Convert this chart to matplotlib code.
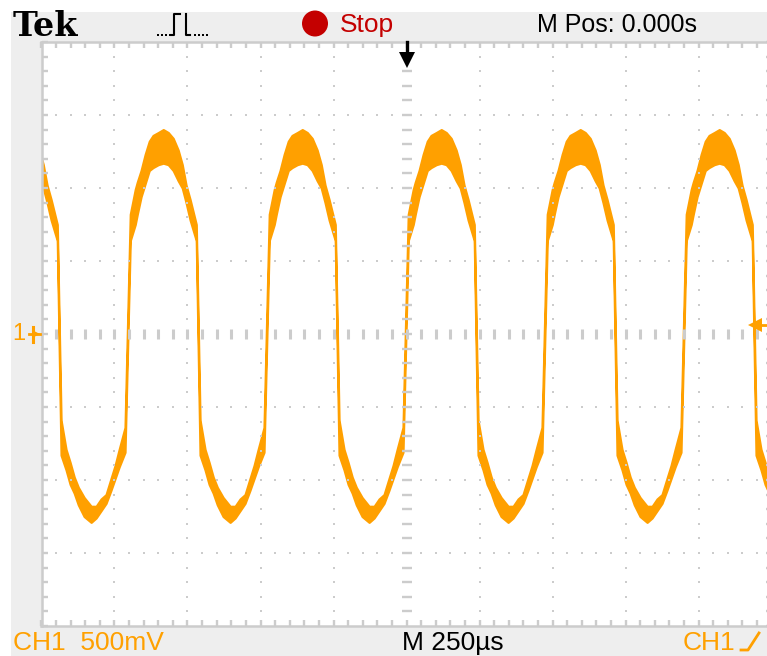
import numpy as np
import matplotlib.pyplot as plt
from matplotlib.patches import Rectangle, Circle

W, H = 767, 656

# CH1 trace: time (us) with upper / lower edge of the trace (V)
trace_t = ([-1258, -1244, -1231, -1217, -1196, -1183, -1166, -1152, -1138, -1124, -1104]
           + [-1080, -1063, -1046, -1029, -1012, -998, -984, -964, -946, -929, -922, -909, -895, -881, -868,
              -850, -833, -816, -799, -782, -768, -755, -741, -720, -707, -690, -676, -662, -648, -628]
           + [-604, -587, -570, -553, -536, -522, -508, -488, -470, -453, -446, -433, -419, -405, -392,
              -374, -357, -340, -323, -306, -292, -279, -265, -244, -231, -214, -200, -186, -172, -152]
           + [-128, -111, -94, -77, -60, -46, -32, -12, 6, 23, 30, 43, 57, 71, 84,
              102, 119, 136, 153, 170, 184, 197, 211, 232, 245, 262, 276, 290, 304, 324]
           + [348, 365, 382, 399, 416, 430, 444, 464, 482, 499, 506, 519, 533, 547, 560,
              578, 595, 612, 629, 646, 660, 673, 687, 708, 721, 738, 752, 766, 780, 800]
           + [824, 841, 858, 875, 892, 906, 920, 940, 958, 975, 982, 995, 1009, 1023, 1036,
              1054, 1071, 1088, 1105, 1122, 1136, 1149, 1163, 1184, 1197, 1214, 1228, 1242, 1256])

trace_hi = ([1.26, 1.16, 1.02, 0.92, 0.75, -0.59, -0.79, -0.88, -0.98, -1.05, -1.12]
            + [-1.18, -1.18, -1.13, -1.10, -0.99, -0.90, -0.79, -0.64, 0.82, 0.99, 1.04, 1.12, 1.23, 1.32, 1.36,
               1.38, 1.40, 1.38, 1.34, 1.26, 1.16, 1.02, 0.92, 0.75, -0.59, -0.79, -0.88, -0.98, -1.05, -1.12]
            + [-1.18, -1.18, -1.13, -1.10, -0.99, -0.90, -0.79, -0.64, 0.82, 0.99, 1.04, 1.12, 1.23, 1.32, 1.36,
               1.38, 1.40, 1.38, 1.34, 1.26, 1.16, 1.02, 0.92, 0.75, -0.59, -0.79, -0.88, -0.98, -1.05, -1.12]
            + [-1.18, -1.18, -1.13, -1.10, -0.99, -0.90, -0.79, -0.64, 0.82, 0.99, 1.04, 1.12, 1.23, 1.32, 1.36,
               1.38, 1.40, 1.38, 1.34, 1.26, 1.16, 1.02, 0.92, 0.75, -0.59, -0.79, -0.88, -0.98, -1.05, -1.12]
            + [-1.18, -1.18, -1.13, -1.10, -0.99, -0.90, -0.79, -0.64, 0.82, 0.99, 1.04, 1.12, 1.23, 1.32, 1.36,
               1.38, 1.40, 1.38, 1.34, 1.26, 1.16, 1.02, 0.92, 0.75, -0.59, -0.79, -0.88, -0.98, -1.05, -1.12]
            + [-1.18, -1.18, -1.13, -1.10, -0.99, -0.90, -0.79, -0.64, 0.82, 0.99, 1.04, 1.12, 1.23, 1.32, 1.36,
               1.38, 1.40, 1.38, 1.34, 1.26, 1.16, 1.02, 0.92, 0.75, -0.59, -0.79, -0.88, -0.98, -1.05])

trace_lo = ([1.05, 1.00, 0.90, 0.78, 0.64, -0.83, -0.93, -1.03, -1.09, -1.17, -1.25]
            + [-1.29, -1.26, -1.21, -1.16, -1.07, -0.99, -0.91, -0.81, 0.64, 0.75, 0.82, 0.94, 1.03, 1.12, 1.14,
               1.16, 1.17, 1.16, 1.12, 1.05, 1.00, 0.90, 0.78, 0.64, -0.83, -0.93, -1.03, -1.09, -1.17, -1.25]
            + [-1.29, -1.26, -1.21, -1.16, -1.07, -0.99, -0.91, -0.81, 0.64, 0.75, 0.82, 0.94, 1.03, 1.12, 1.14,
               1.16, 1.17, 1.16, 1.12, 1.05, 1.00, 0.90, 0.78, 0.64, -0.83, -0.93, -1.03, -1.09, -1.17, -1.25]
            + [-1.29, -1.26, -1.21, -1.16, -1.07, -0.99, -0.91, -0.81, 0.64, 0.75, 0.82, 0.94, 1.03, 1.12, 1.14,
               1.16, 1.17, 1.16, 1.12, 1.05, 1.00, 0.90, 0.78, 0.64, -0.83, -0.93, -1.03, -1.09, -1.17, -1.25]
            + [-1.29, -1.26, -1.21, -1.16, -1.07, -0.99, -0.91, -0.81, 0.64, 0.75, 0.82, 0.94, 1.03, 1.12, 1.14,
               1.16, 1.17, 1.16, 1.12, 1.05, 1.00, 0.90, 0.78, 0.64, -0.83, -0.93, -1.03, -1.09, -1.17, -1.25]
            + [-1.29, -1.26, -1.21, -1.16, -1.07, -0.99, -0.91, -0.81, 0.64, 0.75, 0.82, 0.94, 1.03, 1.12, 1.14,
               1.16, 1.17, 1.16, 1.12, 1.05, 1.00, 0.90, 0.78, 0.64, -0.83, -0.93, -1.03, -1.09, -1.17])

us_per_div = 250
v_per_div = 0.5
n_xdiv, n_ydiv = 10, 8
trigger_level = 0.06

ORANGE = '#FFA000'
GRID = '#CCCCCC'
SCREEN = '#EEEEEE'
FONT = 'Liberation Sans'

fig = plt.figure(figsize=(W / 100, H / 100), dpi=100)
fig.patch.set_facecolor(SCREEN)

# graticule area (right border falls just outside the picture)
ax = fig.add_axes([41.5 / W, 30 / H, 730 / W, 584 / H])
ax.set_facecolor('white')
xmax = us_per_div * n_xdiv / 2
ymax = v_per_div * n_ydiv / 2
ax.set_xlim(-xmax, xmax)
ax.set_ylim(-ymax, ymax)

ax.fill_between(trace_t, trace_lo, trace_hi, color=ORANGE, edgecolor=ORANGE,
                linewidth=1.6, zorder=1)

minor_x = np.arange(-xmax, xmax + 1, us_per_div / 5)
minor_y = np.round(np.arange(-ymax, ymax + 0.01, v_per_div / 5), 3)
ax.set_xticks(minor_x)
ax.set_yticks(minor_y)
ax.tick_params(direction='in', length=4.3, width=1.7, color=GRID,
               top=True, right=True, labelbottom=False, labelleft=False)
for s in ax.spines.values():
    s.set_color(GRID)
    s.set_linewidth(1.8)

# dotted division lines
inner_x = minor_x[1:-1]
inner_y = minor_y[1:-1]
for k in range(1, n_xdiv):
    gx = -xmax + k * us_per_div
    if gx == 0:
        continue
    ax.plot(np.full(len(inner_y), gx), inner_y, ls='none', marker='s', ms=1.9,
            mew=0, color=GRID, zorder=2)
for k in range(1, n_ydiv):
    gy = -ymax + k * v_per_div
    if gy == 0:
        continue
    ax.plot(inner_x, np.full(len(inner_x), gy), ls='none', marker='s', ms=1.9,
            mew=0, color=GRID, zorder=2)

# centre cross with tick marks
ax.plot(inner_x, np.zeros(len(inner_x)), ls='none', marker='|', ms=6.5, mew=2.2,
        color=GRID, zorder=2)
ax.plot(np.zeros(len(inner_y)), inner_y, ls='none', marker='_', ms=6.5, mew=1.7,
        color=GRID, zorder=2)

# trigger position (M Pos 0) and trigger level markers
ax.plot([0, 0], [ymax, ymax - 0.12], color='black', lw=2.4, clip_on=False, zorder=4)
ax.plot([0], [ymax - 0.12], marker='v', ms=11, color='black', mew=0, zorder=4)
ax.plot([xmax - 55], [trigger_level], marker='<', ms=10, color=ORANGE, mew=0,
        clip_on=False, zorder=4)
ax.plot([xmax - 65, xmax - 15], [trigger_level, trigger_level], color=ORANGE, lw=2,
        clip_on=False, zorder=4)

# screen readouts, in pixel coordinates
ov = fig.add_axes([0, 0, 1, 1])
ov.set_xlim(0, W)
ov.set_ylim(H, 0)
ov.axis('off')
ov.patch.set_alpha(0)
ov.add_patch(Rectangle((0, 0), W, 12, color='white', lw=0))
ov.add_patch(Rectangle((0, 0), 11, H, color='white', lw=0))

ov.text(13, 36, 'Tek', fontsize=24, fontweight='bold', family='DejaVu Serif',
        va='baseline', ha='left', color='black')

# acquisition icon
ov.plot([158, 162, 166, 170], [35, 35, 35, 35], ls='none', marker='s', ms=1.6,
        color='black', mew=0)
ov.plot([171, 174, 174, 180], [35, 35, 14, 14], color='black', lw=1.5)
ov.plot([186, 186, 190], [14, 35, 35], color='black', lw=1.5)
ov.plot([195, 199, 203, 207], [35, 35, 35, 35], ls='none', marker='s', ms=1.6,
        color='black', mew=0)

ov.add_patch(Circle((315, 23.5), 13, color='#C40000', lw=0))
ov.text(340, 32, 'Stop', fontsize=19, family=FONT, color='#C40000', va='baseline')
ov.text(537, 32, 'M Pos: 0.000s', fontsize=18, family=FONT, color='black', va='baseline')

ov.text(13, 655, 'CH1  500mV', fontsize=19, family=FONT, color=ORANGE, va='bottom')
ov.text(402, 655, 'M 250µs', fontsize=19, family=FONT, color='black', va='bottom')
ov.text(683, 655, 'CH1', fontsize=19, family=FONT, color=ORANGE, va='bottom')
ov.plot([741, 748, 759], [650, 650, 633], color=ORANGE, lw=2)

# channel 1 ground marker
ov.text(19, 334, '1', fontsize=17, family=FONT, color=ORANGE, ha='center', va='center')
ov.plot([29, 40], [334, 334], color=ORANGE, lw=2)
ov.plot([32.5, 32.5], [327, 342], color=ORANGE, lw=2.2)
ov.plot([36], [334], marker='>', ms=6, color=ORANGE, mew=0)

fig.savefig('out.png', dpi=100, facecolor=fig.get_facecolor())
